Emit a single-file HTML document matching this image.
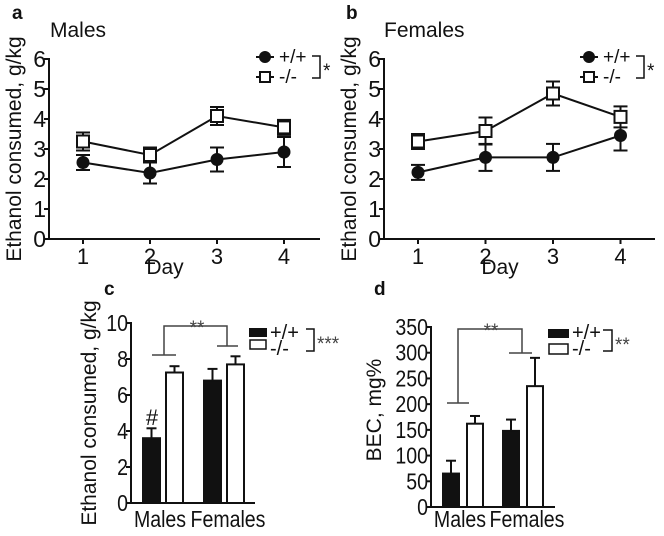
<!DOCTYPE html>
<html><head><meta charset="utf-8"><style>
html,body{margin:0;padding:0;background:#fff}
svg{display:block;font-family:"Liberation Sans",sans-serif}
</style></head><body>
<svg id="fig" width="664" height="536" viewBox="0 0 664 536" xmlns="http://www.w3.org/2000/svg"></svg>
<script>
const days=["1","2","3","4"];
const maleWT=[2.55,2.2,2.65,2.9], maleWTerr=[0.25,0.35,0.4,0.5];
const maleKO=[3.25,2.8,4.1,3.72], maleKOerr=[0.3,0.25,0.3,0.25];
const femWT=[2.22,2.72,2.72,3.45], femWTerr=[0.25,0.45,0.45,0.5];
const femKO=[3.25,3.6,4.85,4.07], femKOerr=[0.25,0.45,0.4,0.35];
const lineTicks=[0,1,2,3,4,5,6];
const groups=["Males","Females"];
const ethWT=[3.6,6.8], ethWTerr=[0.55,0.65];
const ethKO=[7.25,7.7], ethKOerr=[0.35,0.45];
const ethTicks=[0,2,4,6,8,10];
const becWT=[65,148], becWTerr=[25,22];
const becKO=[162,235], becKOerr=[15,55];
const becTicks=[0,50,100,150,200,250,300,350];

const NS="http://www.w3.org/2000/svg", svg=document.getElementById('fig');
function mk(tag,attrs,parent,name){const e=document.createElementNS(NS,tag);for(const k in attrs)e.setAttribute(k,attrs[k]);


(parent||svg).appendChild(e);return e;}
function txt(x,y,s,size,name,anchor,extra){const t=mk('text',Object.assign({x:x,y:y,'font-size':size,fill:'#111','text-anchor':anchor||'start'},extra||{}),svg,name);t.textContent=s;return t;}
function ln(x1,y1,x2,y2,name,w,c){return mk('line',{x1,y1,x2,y2,stroke:c||'#111','stroke-width':w||2},svg,name);}

function linePanel(o){
  const y=v=>o.y0-(v-0)*(o.y0-o.y6)/6;
  const x=i=>o.xs[0]+i*(o.xs[1]-o.xs[0]);
  ln(o.ax,o.y6-1,o.ax,o.y0,o.id+'-y-axis');
  ln(o.ax,o.y0,o.axEnd,o.y0,o.id+'-x-axis');
  lineTicks.forEach(t=>{ln(o.ax-5,y(t),o.ax,y(t),o.id+'-y-tick');txt(o.ax-3,y(t)+8,String(t),23,o.id+'-y-tick-label','end');});
  days.forEach((d,i)=>{ln(x(i),o.y0,x(i),o.y0+5,o.id+'-x-tick');txt(x(i),o.y0+25,d,22,o.id+'-x-tick-label','middle');});
  txt(o.ax+116,o.y0+35,'Day',21,o.id+'-x-axis-title','middle');
  txt(0,0,'Ethanol consumed, g/kg',21,o.id+'-y-axis-title','middle',{transform:`translate(${o.ax-28},${(o.y0+o.y6)/2}) rotate(-90)`});
  [[o.wt,o.wte,'wt'],[o.ko,o.koe,'ko']].forEach(([vals,err,s])=>{
    let p=vals.map((v,i)=>x(i)+','+y(v)).join(' ');
    mk('polyline',{points:p,fill:'none',stroke:'#111','stroke-width':2},svg,o.id+'-'+s+'-line');
    vals.forEach((v,i)=>{const cx=x(i);
      ln(cx,y(v+err[i]),cx,y(v-err[i]),o.id+'-'+s+'-error-bar');
      ln(cx-7,y(v+err[i]),cx+7,y(v+err[i]),o.id+'-'+s+'-error-cap');
      ln(cx-7,y(v-err[i]),cx+7,y(v-err[i]),o.id+'-'+s+'-error-cap');
      if(s==='wt')mk('circle',{cx,cy:y(v),r:6.5,fill:'#111'},svg,o.id+'-wt-point');
      else mk('rect',{x:cx-6,y:y(v)-6,width:12,height:12,fill:'#fff',stroke:'#111','stroke-width':2},svg,o.id+'-ko-point');
    });
  });
  const lx=o.lx;
  ln(lx-9,57,lx+9,57,o.id+'-legend-wt-line');mk('circle',{cx:lx,cy:57,r:6,fill:'#111'},svg,o.id+'-legend-wt-marker');
  txt(lx+14,63,'+/+',19,o.id+'-legend-wt-label');
  ln(lx-9,77,lx+9,77,o.id+'-legend-ko-line');mk('rect',{x:lx-5,y:72,width:10,height:10,fill:'#fff',stroke:'#111','stroke-width':2},svg,o.id+'-legend-ko-marker');
  txt(lx+14,83,'-/-',19,o.id+'-legend-ko-label');
  mk('polyline',{points:`${lx+47},56 ${lx+55},56 ${lx+55},78 ${lx+47},78`,fill:'none',stroke:'#111','stroke-width':1.5},svg,o.id+'-sig-bracket');
  txt(lx+58,77,'*',19,o.id+'-sig-star');
}
txt(12,19,'a',19,'panel-a-label','start',{'font-weight':'bold'});
txt(50,37,'Males',21,'panel-a-title');
linePanel({id:'a',ax:49,axEnd:320,y0:239,y6:59,xs:[83,150],wt:maleWT,wte:maleWTerr,ko:maleKO,koe:maleKOerr,lx:265});
txt(346,19,'b',19,'panel-b-label','start',{'font-weight':'bold'});
txt(384,37,'Females',21,'panel-b-title');
linePanel({id:'b',ax:384,axEnd:655,y0:239,y6:59,xs:[418,485.5],wt:femWT,wte:femWTerr,ko:femKO,koe:femKOerr,lx:589});

function barPanel(o){
  const y=v=>o.y0-v*(o.y0-o.yTop)/o.max;
  ln(o.ax,o.yTop-1,o.ax,o.y0,o.id+'-y-axis');
  ln(o.ax,o.y0,o.axEnd,o.y0,o.id+'-x-axis');
  o.ticks.forEach(t=>{ln(o.ax-5,y(t),o.ax,y(t),o.id+'-y-tick');txt(o.ax-3,y(t)+8,String(t),23,o.id+'-y-tick-label','end',{transform:`translate(${(o.ax-3)*0.15},0) scale(0.85,1)`});});
  groups.forEach((g,i)=>{
    const gx=o.g0+i*o.gs;
    [[o.wt,o.wte,'#111','wt',0],[o.ko,o.koe,'#fff','ko',o.bs]].forEach(([v,e,f,s,off])=>{
      const bx=gx+off, top=y(v[i]);
      ln(bx+o.bw/2,y(v[i]+e[i]),bx+o.bw/2,top,o.id+'-'+s+'-error-bar');
      ln(bx+o.bw/2-5,y(v[i]+e[i]),bx+o.bw/2+5,y(v[i]+e[i]),o.id+'-'+s+'-error-cap');
      mk('rect',{x:bx,y:top,width:o.bw,height:o.y0-top,fill:f,stroke:'#111','stroke-width':2},svg,o.id+'-bar-'+s+'-'+g.toLowerCase());
    });
    const cx=gx+o.bs/2+o.bw/2+(i===0?-3:4);
    txt(cx,527,g,23,o.id+'-x-label-'+g.toLowerCase(),'middle',{transform:`translate(${cx*0.15},0) scale(0.85,1)`});
  });
}
txt(104,295,'c',19,'panel-c-label','start',{'font-weight':'bold'});
barPanel({id:'c',ax:131,axEnd:255,y0:503,yTop:323,max:10,ticks:ethTicks,g0:143,gs:61,bs:23,bw:17,wt:ethWT,wte:ethWTerr,ko:ethKO,koe:ethKOerr});
txt(0,0,'Ethanol consumed, g/kg',21,'c-y-axis-title','middle',{transform:'translate(96,413) rotate(-90)'});
txt(152,425,'#',22,'c-hash-mark','middle');
mk('polyline',{points:'164,355 164,326 227,326 227,346',fill:'none',stroke:'#444','stroke-width':1.5},svg,'c-sig-bracket');
ln(152,355,176,355,'c-sig-bar-males',1.5,'#444');ln(217,346,238,346,'c-sig-bar-females',1.5,'#444');
txt(197,334,'**',19,'c-sig-stars','middle',{fill:'#444'});
mk('rect',{x:249,y:328,width:18,height:9,fill:'#111'},svg,'c-legend-wt-swatch');
mk('rect',{x:250,y:340,width:16,height:9,fill:'#fff',stroke:'#111','stroke-width':1.5},svg,'c-legend-ko-swatch');
txt(270,339,'+/+',20,'c-legend-wt-label');txt(270,355,'-/-',20,'c-legend-ko-label');
mk('polyline',{points:'306,329 314,329 314,351 306,351',fill:'none',stroke:'#111','stroke-width':1.5},svg,'c-legend-bracket');
txt(317,350,'***',19,'c-legend-stars',"start",{fill:'#444'});

txt(374,295,'d',19,'panel-d-label','start',{'font-weight':'bold'});
barPanel({id:'d',ax:431,axEnd:555,y0:507,yTop:327,max:350,ticks:becTicks,g0:443,gs:60,bs:24,bw:16,wt:becWT,wte:becWTerr,ko:becKO,koe:becKOerr});
txt(0,0,'BEC, mg%',21,'d-y-axis-title','middle',{transform:'translate(381,410) rotate(-90)'});
mk('polyline',{points:'458,403 458,329 522,329 522,353',fill:'none',stroke:'#444','stroke-width':1.5},svg,'d-sig-bracket');
ln(447,403,469,403,'d-sig-bar-males',1.5,'#444');ln(509,353,532,353,'d-sig-bar-females',1.5,'#444');
txt(491,337,'**',19,'d-sig-stars','middle',{fill:'#444'});
mk('rect',{x:548,y:329,width:21,height:9,fill:'#111'},svg,'d-legend-wt-swatch');
mk('rect',{x:549,y:344,width:19,height:10,fill:'#fff',stroke:'#111','stroke-width':1.5},svg,'d-legend-ko-swatch');
txt(572,339,'+/+',20,'d-legend-wt-label');txt(572,355,'-/-',20,'d-legend-ko-label');
mk('polyline',{points:'603,330 612,330 612,351 603,351',fill:'none',stroke:'#111','stroke-width':1.5},svg,'d-legend-bracket');
txt(615,351,'**',19,'d-legend-stars','start',{fill:'#444'});
</script>
</body></html>
